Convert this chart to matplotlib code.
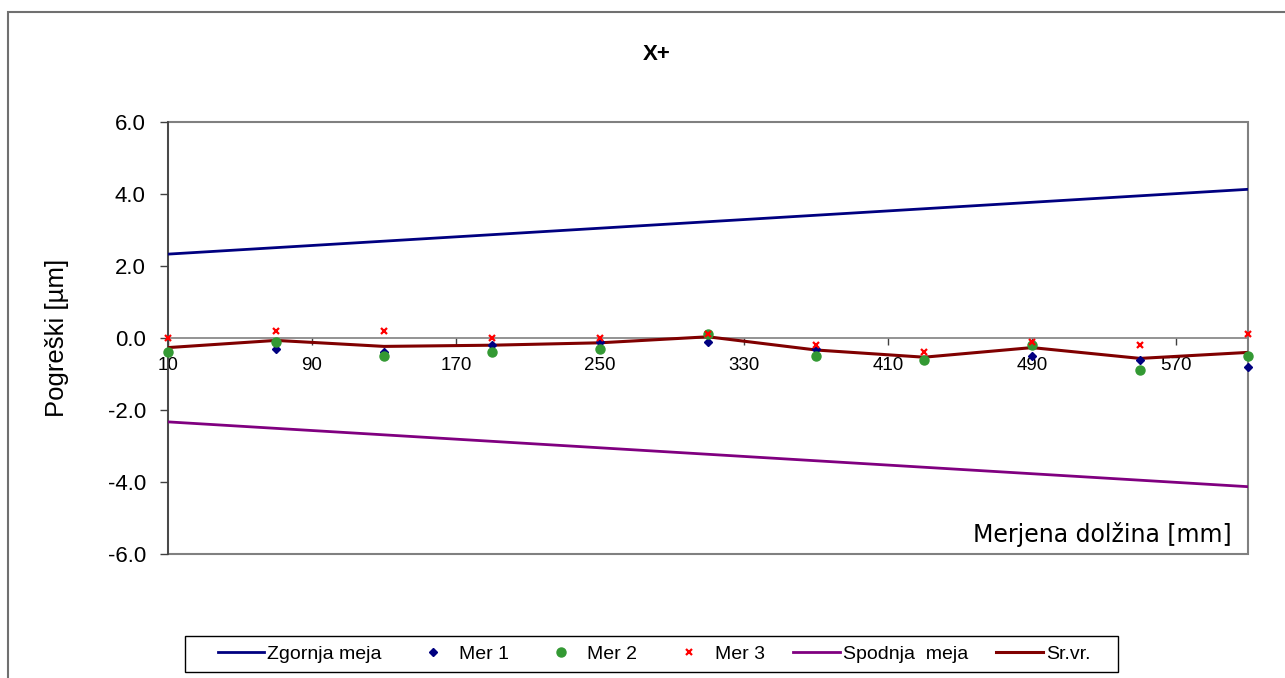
import numpy as np
import matplotlib
matplotlib.use("Agg")
from matplotlib import pyplot as plt
from matplotlib.patches import Rectangle

# measured lengths [mm]
lengths = [10, 70, 130, 190, 250, 310, 370, 430, 490, 550, 610]

# tolerance band [um]
upper = [2.33, 2.51, 2.69, 2.87, 3.05, 3.23, 3.41, 3.59, 3.77, 3.95, 4.13]
lower = [-2.33, -2.51, -2.69, -2.87, -3.05, -3.23, -3.41, -3.59, -3.77, -3.95, -4.13]

# three measurement runs [um]
mer1 = [-0.4, -0.3, -0.4, -0.2, -0.1, -0.1, -0.3, -0.6, -0.5, -0.6, -0.8]
mer2 = [-0.4, -0.1, -0.5, -0.4, -0.3, 0.1, -0.5, -0.6, -0.2, -0.9, -0.5]
mer3 = [0.0, 0.2, 0.2, 0.0, 0.0, 0.1, -0.2, -0.4, -0.1, -0.2, 0.1]

x_ticks = [10, 90, 170, 250, 330, 410, 490, 570]
y_ticks = [-6.0, -4.0, -2.0, 0.0, 2.0, 4.0, 6.0]

avg = np.mean([mer1, mer2, mer3], axis=0)

plt.rcParams['font.family'] = ['Liberation Sans', 'DejaVu Sans']

W, H = 1285, 678
fig = plt.figure(figsize=(W / 100, H / 100), dpi=100)
ax = fig.add_axes([168 / W, 1 - 554 / H, (1248 - 168) / W, (554 - 122) / H])

ax.plot(lengths, upper, color='#000080', lw=2, label='Zgornja meja', zorder=3)
ax.plot(lengths, mer1, ls='none', marker='D', ms=4.5, color='#000080',
        label='Mer 1', zorder=5, clip_on=False)
ax.plot(lengths, mer2, ls='none', marker='o', ms=6.5, color='#339933',
        label='Mer 2', zorder=6, clip_on=False)
ax.plot(lengths, mer3, ls='none', marker='x', ms=5, mew=1.6, color='#ff0000',
        label='Mer 3', zorder=7, clip_on=False)
ax.plot(lengths, lower, color='#800080', lw=2, label='Spodnja  meja', zorder=3)
ax.plot(lengths, avg, color='#800000', lw=2.2, label='Sr.vr.', zorder=4)

ax.set_xlim(10, 610)
ax.set_ylim(-6, 6)

# x axis crosses at zero, plot area framed in grey
for s in ['top', 'right']:
    ax.spines[s].set_visible(False)
ax.spines['bottom'].set_position(('data', 0))
ax.spines['bottom'].set_color('#808080')
ax.spines['bottom'].set_linewidth(1.2)
ax.spines['left'].set_color('#404040')
ax.spines['left'].set_linewidth(1.2)
ax.add_patch(Rectangle((0, 0), 1, 1, transform=ax.transAxes, fill=False,
                       edgecolor='#808080', lw=1.5, zorder=1, clip_on=False))

ax.set_xticks(x_ticks)
ax.set_yticks(y_ticks)
ax.set_yticklabels([f'{v:.1f}' for v in y_ticks])
ax.set_xticklabels([str(v) for v in x_ticks])
ax.tick_params(axis='x', direction='out', length=5, width=1, color='#404040',
               pad=9, labelsize=13.5)
ax.tick_params(axis='y', direction='out', length=6, width=1, color='#404040',
               pad=10, labelsize=16)

ax.text((57 - 168) / 1080, 0.5, 'Pogreški [µm]', transform=ax.transAxes,
        rotation=90, ha='center', va='center', fontsize=18.5)
ax.text(0.985, 0.045, 'Merjena dolžina [mm]', transform=ax.transAxes,
        ha='right', va='center', fontsize=17, family='DejaVu Sans')

fig.text(657 / W, 1 - 55 / H, 'X+', ha='center', va='center',
         fontsize=16, fontweight='bold')

# outer chart border
fig.patches.append(Rectangle((8 / W, -0.05), 1.1, 1 - 12 / H + 0.05,
                             transform=fig.transFigure, fill=False,
                             edgecolor='#707070', lw=1.5))

# legend box
fig.patches.append(Rectangle((185 / W, 1 - 672 / H), (1118 - 185) / W, 36 / H,
                             transform=fig.transFigure, fill=False,
                             edgecolor='black', lw=1.0))
fig.legend(loc='center', bbox_to_anchor=(654 / W, 1 - 654 / H), ncol=6,
           fontsize=14, frameon=False, handlelength=2.4, columnspacing=1.45,
           handletextpad=0.15, borderpad=0.2)

fig.savefig('out.png', dpi=100)
